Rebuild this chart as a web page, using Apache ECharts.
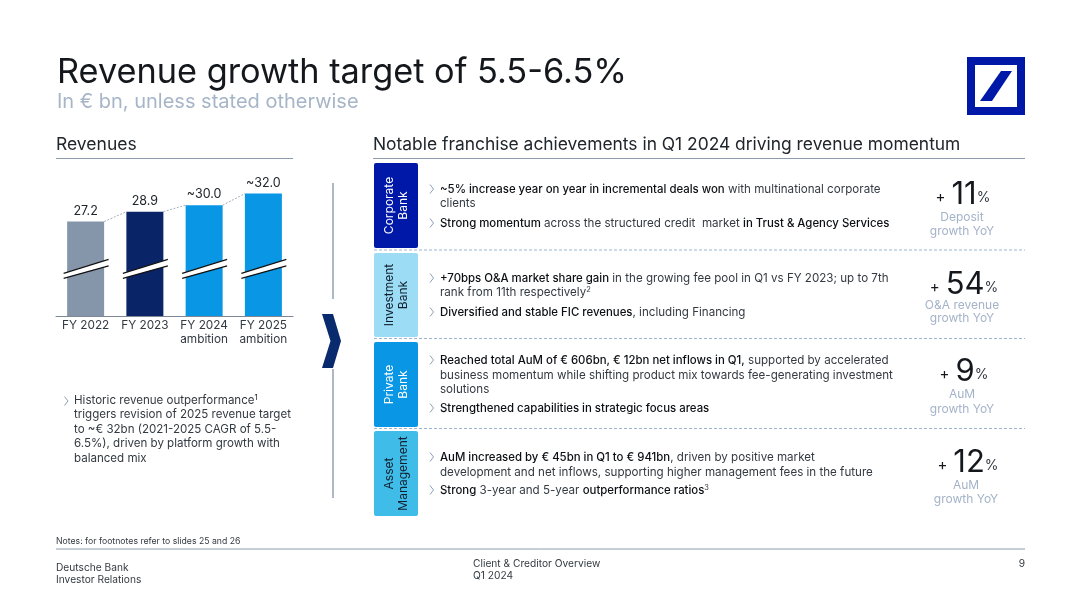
<!DOCTYPE html>
<html>
<head>
<meta charset="utf-8">
<title>Revenue growth target</title>
<style>
html,body{margin:0;padding:0;background:#fff}
#main{width:1080px;height:607px}
</style>
<script src="https://cdn.jsdelivr.net/npm/echarts@6/dist/echarts.min.js"></script>
</head>
<body>
<div id="main"></div>
<script>
// chart data
var categories = ['FY 2022', 'FY 2023', 'FY 2024\nambition', 'FY 2025\nambition'];
var revenues = [27.2, 28.9, 30.0, 32.0];
var valueLabels = ['27.2', '28.9', '~30.0', '~32.0'];
var barColors = ['#8596AB', '#0A2468', '#0896E5', '#0896E5'];
var breakLevel = [19, 19, 19, 19];

// slide text, [text, bold] pieces per line
var blockNames = [['Corporate', 'Bank'], ['Investment', 'Bank'], ['Private', 'Bank'], ['Asset', 'Management']];
var blockColors = ['#0018A8', '#9CDCF5', '#0896E5', '#3FBCE8'];
var blockText = ['#fff', '#10202f', '#fff', '#10202f'];
var blockTop = [163, 253, 342, 431];
var blockBottom = [248, 337, 427, 516];
var kpiValues = ['11', '54', '9', '12'];
var kpiLabels = [['Deposit', 'growth YoY'], ['O&A revenue', 'growth YoY'], ['AuM', 'growth YoY'], ['AuM', 'growth YoY']];
var kpiX = [963, 964, 964, 968];
var kpiY = [195, 285, 372, 463];
var kpiLabelX = [962, 962, 962, 966];
var kpiLabelY = [[217, 231], [305, 318], [394, 409], [485, 499]];

var lines = [
  {y: 190, bullet: 1, t: [['~5% increase year on year in incremental deals won', 1], [' with multinational corporate', 0]]},
  {y: 204, t: [['clients', 0]]},
  {y: 224, bullet: 1, t: [['Strong momentum', 1], [' across the structured credit  market ', 0], ['in Trust & Agency Services', 1]]},
  {y: 279, bullet: 1, t: [['+70bps O&A market share gain', 1], [' in the growing fee pool in Q1 vs FY 2023; up to 7th', 0]]},
  {y: 293, t: [['rank from 11th respectively', 0], ['2', 2]]},
  {y: 313, bullet: 1, t: [['Diversified and stable FIC revenues', 1], [', including Financing', 0]]},
  {y: 361, bullet: 1, t: [['Reached total AuM of € 606bn, € 12bn net inflows in Q1,', 1], [' supported by accelerated', 0]]},
  {y: 376, t: [['business momentum while shifting product mix towards fee-generating investment', 0]]},
  {y: 390, t: [['solutions', 0]]},
  {y: 409, bullet: 1, t: [['Strengthened capabilities in strategic focus areas', 1]]},
  {y: 458, bullet: 1, t: [['AuM increased by € 45bn in Q1 to € 941bn', 1], [', driven by positive market', 0]]},
  {y: 473, t: [['development and net inflows, supporting higher management fees in the future', 0]]},
  {y: 491, bullet: 1, t: [['Strong', 1], [' 3-year and 5-year ', 0], ['outperformance ratios', 1], ['3', 2]]}
];
var leftLines = [
  [['Historic revenue outperformance', 0], ['1', 2]],
  [['triggers revision of 2025 revenue target', 0]],
  [['to ~€ 32bn (2021-2025 CAGR of 5.5-', 0]],
  [['6.5%), driven by platform growth with', 0]],
  [['balanced mix', 0]]
];
var leftY = [401, 415, 430, 444, 459];

var FONT = 'Inter';
var g = [];

function txt(x, y, s, size, color, extra) {
  var st = {x: x, y: y, text: s, fontFamily: FONT, fontSize: size, fill: color, textVerticalAlign: 'middle'};
  for (var k in (extra || {})) st[k] = extra[k];
  g.push({type: 'text', silent: true, style: st});
}
function line(x1, y1, x2, y2, color, w, dash) {
  g.push({type: 'line', silent: true, shape: {x1: x1, y1: y1, x2: x2, y2: y2},
    style: {stroke: color, lineWidth: w, lineDash: dash || null}});
}
function bullet(x, y) {
  g.push({type: 'polyline', silent: true, shape: {points: [[x, y - 4.5], [x + 3.5, y], [x, y + 4.5]]},
    style: {stroke: '#7d95b0', lineWidth: 0.9, fill: null}});
}
var richStyle = {
  n: {fontFamily: FONT, fontSize: 11.6, fill: '#333a42', fontWeight: 400},
  b: {fontFamily: FONT, fontSize: 11.4, fill: '#0c1014', fontWeight: 500},
  s: {fontFamily: FONT, fontSize: 7.5, fill: '#333a42', padding: [0, 0, 6, 0]}
};
var leftRich = {
  n: {fontFamily: FONT, fontSize: 11.55, fill: '#333a42'},
  s: {fontFamily: FONT, fontSize: 7.5, fill: '#111', padding: [0, 0, 6, 0]}
};
function richLine(pieces) {
  return pieces.map(function (p) {
    var key = p[1] === 1 ? 'b' : (p[1] === 2 ? 's' : 'n');
    return '{' + key + '|' + p[0] + '}';
  }).join('');
}

// header
txt(57, 73, 'Revenue growth target of 5.5-6.5%', 34.3, '#14181c', {fontWeight: 400});
txt(57, 102, 'In € bn, unless stated otherwise', 20, '#a6b5c7');
txt(56, 144.5, 'Revenues', 17.5, '#20262c');
txt(373, 144.5, 'Notable franchise achievements in Q1 2024 driving revenue momentum', 17.4, '#20262c');
line(56, 158.5, 293, 158.5, '#8d9cad', 1);
line(373, 158.5, 1025, 158.5, '#8d9cad', 1);

// logo
g.push({type: 'rect', silent: true, shape: {x: 967, y: 57, width: 58, height: 58}, style: {fill: '#0018A8'}});
g.push({type: 'rect', silent: true, shape: {x: 975, y: 65, width: 42, height: 42}, style: {fill: '#fff'}});
g.push({type: 'polygon', silent: true, shape: {points: [[1001, 71], [1012, 71], [992, 101], [980, 101]]}, style: {fill: '#0018A8'}});

// arrow between the two panels
line(333, 183, 333, 299, '#8a9bb0', 1.4);
line(333, 369, 333, 498, '#8a9bb0', 1.4);
g.push({type: 'polygon', silent: true, shape: {points: [[322, 314], [333, 314], [341, 341], [333, 368], [322, 368], [330.5, 341]]}, style: {fill: '#0A2A6E'}});

// left note
bullet(64.5, 401);
leftLines.forEach(function (l, i) {
  g.push({type: 'text', silent: true, style: {x: 74, y: leftY[i], text: richLine(l), rich: leftRich, textVerticalAlign: 'middle'}});
});

// business blocks
blockNames.forEach(function (n, i) {
  g.push({type: 'rect', silent: true, shape: {x: 374, y: blockTop[i], width: 44, height: blockBottom[i] - blockTop[i], r: 2}, style: {fill: blockColors[i]}});
  var cy = (blockTop[i] + blockBottom[i]) / 2;
  g.push({type: 'text', silent: true, x: 389.5, y: cy, rotation: Math.PI / 2, style: {x: 0, y: 0, text: n[0], fontFamily: FONT, fontSize: 12, fill: blockText[i], textAlign: 'center', textVerticalAlign: 'middle'}});
  g.push({type: 'text', silent: true, x: 403.5, y: cy, rotation: Math.PI / 2, style: {x: 0, y: 0, text: n[1], fontFamily: FONT, fontSize: 12, fill: blockText[i], textAlign: 'center', textVerticalAlign: 'middle'}});
});
[250, 338.5, 428.5].forEach(function (y) {
  line(374, y, 1025, y, '#9db4cf', 1, [3, 2]);
});

// bullet text
lines.forEach(function (l) {
  if (l.bullet) bullet(430, l.y - 1);
  g.push({type: 'text', silent: true, style: {x: 440, y: l.y, text: richLine(l.t), rich: richStyle, textVerticalAlign: 'middle'}});
});

// kpis on the right
var kpiRich = {
  p: {fontFamily: FONT, fontSize: 15, fill: '#14181c', padding: [5, 6, 0, 0]},
  v: {fontFamily: FONT, fontSize: 31, fill: '#14181c'},
  c: {fontFamily: FONT, fontSize: 14, fill: '#333a42', padding: [6, 0, 0, 0]}
};
kpiValues.forEach(function (v, i) {
  g.push({type: 'text', silent: true, style: {x: kpiX[i], y: kpiY[i], text: '{p|+}{v|' + v + '}{c|%}', rich: kpiRich, textAlign: 'center', textVerticalAlign: 'middle'}});
  kpiLabels[i].forEach(function (s, j) {
    txt(kpiLabelX[i], kpiLabelY[i][j], s, 12, '#a4b3c8', {textAlign: 'center'});
  });
});

// footer
txt(56, 541, 'Notes: for footnotes refer to slides 25 and 26', 8.7, '#333a42');
line(56, 549, 1025, 549, '#8d9cad', 1);
txt(56, 568, 'Deutsche Bank', 10.2, '#333a42');
txt(56, 580, 'Investor Relations', 10.2, '#333a42');
txt(473, 564, 'Client & Creditor Overview', 10.2, '#333a42');
txt(473, 576, 'Q1 2024', 10.2, '#333a42');
txt(1025, 564, '9', 10.2, '#333a42', {textAlign: 'right'});

var myChart = echarts.init(document.getElementById('main'));
var option = {
  animation: false,
  backgroundColor: '#fff',
  textStyle: {fontFamily: FONT},
  grid: {left: 56, width: 237, top: 170.25, bottom: 291},
  xAxis: {
    type: 'category',
    data: categories,
    axisTick: {show: false},
    axisLine: {lineStyle: {color: '#7d8894', width: 1}},
    axisLabel: {color: '#333a42', fontSize: 11.8, lineHeight: 13.5, margin: 3, interval: 0}
  },
  yAxis: {type: 'value', min: 11, max: 36, show: false, splitLine: {show: false}},
  graphic: g,
  series: [{
    type: 'bar',
    barWidth: 37,
    itemStyle: {color: function (p) { return barColors[p.dataIndex]; }},
    label: {
      show: true,
      position: 'top',
      distance: 4,
      fontSize: 12.5,
      color: '#20262c',
      formatter: function (p) { return valueLabels[p.dataIndex]; }
    },
    data: revenues,
    z: 2
  }, {
    // dotted step from one bar top to the next
    type: 'custom',
    z: 3,
    silent: true,
    data: revenues,
    renderItem: function (params, api) {
      var i = params.dataIndex;
      if (i >= revenues.length - 1) return null;
      var a = api.coord([i, revenues[i]]);
      var b = api.coord([i + 1, revenues[i + 1]]);
      return {type: 'line', shape: {x1: a[0] + 18.5, y1: a[1], x2: b[0] - 18.5, y2: b[1]},
        style: {stroke: '#8d9cad', lineWidth: 0.8, lineDash: [2, 1.5]}};
    }
  }, {
    // axis break across each bar
    type: 'custom',
    z: 4,
    silent: true,
    data: breakLevel,
    renderItem: function (params, api) {
      var c = api.coord([params.dataIndex, breakLevel[params.dataIndex]]);
      var x = c[0], y = c[1];
      return {type: 'group', children: [
        {type: 'polygon', shape: {points: [[x - 22, y + 4], [x + 23, y - 10], [x + 23, y - 3.5], [x - 22, y + 9]]}, style: {fill: '#fff'}},
        {type: 'line', shape: {x1: x - 22, y1: y + 4, x2: x + 23, y2: y - 10}, style: {stroke: '#111', lineWidth: 1.1}},
        {type: 'line', shape: {x1: x - 22, y1: y + 9, x2: x + 23, y2: y - 3.5}, style: {stroke: '#111', lineWidth: 1.1}}
      ]};
    }
  }]
};
myChart.setOption(option);
window.addEventListener('resize', function () { myChart.resize(); });
</script>
</body>
</html>
